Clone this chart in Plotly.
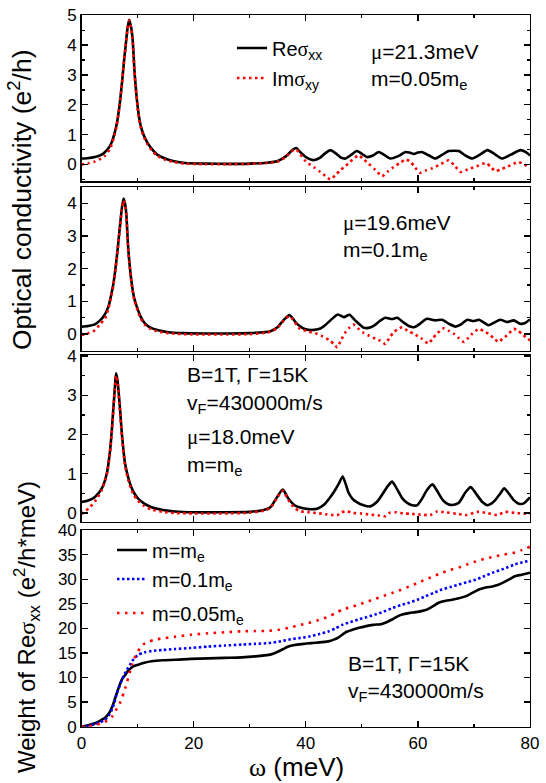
import plotly.graph_objects as go

# ---------------- Panel 1 : mu=21.3 meV, m=0.05 m_e ----------------
p1_re_x = [0, 1, 2.4, 3.5, 4.2, 5.0, 5.4, 5.9, 6.3, 6.8, 7.2, 7.6, 7.9, 8.2, 8.5, 8.8, 9.1, 9.5, 10.1, 10.5,
           11.0, 11.7, 12.5, 13.5, 14.9, 16.5, 18.5, 22, 26, 30, 33, 35, 36.5, 37.6, 38.3, 39.0, 40.0, 41.0,
           41.6, 42.5, 43.5, 44.4, 45.3, 46.2, 47.1, 48.1, 49.1, 50.0, 50.9, 52.0, 53.0, 54.0, 55.1, 56.5,
           57.8, 58.5, 59.3, 60.0, 60.7, 62.0, 63.1, 64.3, 65.5, 66.4, 67.3, 68.5, 69.7, 71.0, 72.4, 73.7,
           75.0, 76.5, 78.3, 79.2, 80]
p1_re_y = [0.2, 0.21, 0.25, 0.32, 0.42, 0.6, 0.75, 1.05, 1.37, 2.0, 2.7, 3.5, 4.03, 4.55, 4.85, 4.65, 4.25, 3.0,
           1.81, 1.35, 1.03, 0.75, 0.53, 0.33, 0.2, 0.11, 0.05, 0.03, 0.02, 0.03, 0.06, 0.12, 0.28, 0.48, 0.55,
           0.42, 0.25, 0.16, 0.15, 0.22, 0.38, 0.48, 0.38, 0.24, 0.2, 0.32, 0.45, 0.36, 0.25, 0.3, 0.42, 0.32,
           0.2, 0.28, 0.42, 0.4, 0.35, 0.4, 0.42, 0.3, 0.2, 0.32, 0.45, 0.46, 0.45, 0.3, 0.2, 0.32, 0.48, 0.35,
           0.2, 0.32, 0.48, 0.42, 0.3]
p1_im_x = [0, 1.2, 2.4, 3.5, 4.2, 5.0, 5.4, 5.9, 6.3, 6.8, 7.2, 7.6, 7.9, 8.2, 8.5, 8.8, 9.1, 9.5, 10.1, 10.5,
           11.0, 11.7, 12.5, 13.5, 14.9, 16.5, 18.5, 22, 26, 30, 33, 35, 36.5, 37.6, 38.3, 39.0, 39.8, 40.5,
           41.5, 42.6, 43.5, 44.4, 45.3, 46.2, 47.1, 47.9, 48.7, 49.4, 50.3, 51.2, 52.4, 53.6, 54.6, 55.7,
           56.8, 57.8, 58.7, 59.5, 60.4, 61.4, 62.5, 64.0, 65.5, 66.6, 67.6, 68.5, 69.4, 70.8, 72.1, 73.0,
           73.8, 74.9, 75.9, 77.4, 78.0, 79.0, 80]
p1_im_y = [0.0, 0.04, 0.1, 0.2, 0.3, 0.5, 0.68, 1.0, 1.33, 1.97, 2.68, 3.48, 4.0, 4.52, 4.82, 4.62, 4.2, 2.95,
           1.77, 1.3, 0.98, 0.7, 0.48, 0.29, 0.16, 0.08, 0.03, 0.01, 0.01, 0.02, 0.05, 0.1, 0.26, 0.46, 0.5,
           0.35, 0.15, 0.03, -0.1, -0.25, -0.38, -0.5, -0.35, -0.19, -0.05, 0.09, 0.22, 0.31, 0.18, 0.03,
           -0.18, -0.39, -0.24, -0.08, 0.05, 0.17, 0.09, -0.1, -0.28, -0.2, -0.13, 0.0, 0.14, -0.05, -0.25,
           -0.19, -0.13, -0.04, 0.05, -0.08, -0.22, -0.15, -0.08, 0.05, 0.08, 0.0, -0.12]

# ---------------- Panel 2 : mu=19.6 meV, m=0.1 m_e ----------------
p2_re_x = [0, 1.2, 2.4, 3.3, 3.9, 4.8, 5.3, 5.7, 6.3, 6.9, 7.2, 7.5, 7.8, 8.0, 8.36, 8.96, 9.4, 9.86, 10.5,
           11.3, 12.3, 13.7, 15.5, 17.9, 22, 26, 30, 33.7, 35.0, 36.0, 37.1, 38.4, 39.5, 40.5, 41.5, 42.6,
           43.5, 44.4, 45.7, 46.8, 47.8, 48.8, 50.3, 51.2, 52.1, 53.2, 54.2, 55.4, 56.3, 57.5, 58.5, 59.3,
           60.4, 61.6, 63.1, 64.3, 65.5, 66.7, 67.7, 68.8, 69.9, 70.9, 71.8, 72.6, 73.6, 74.7, 75.9, 77.1,
           78.2, 79.0, 80]
p2_re_y = [0.23, 0.25, 0.3, 0.42, 0.53, 0.84, 1.2, 1.55, 2.36, 3.37, 3.85, 4.14, 3.95, 3.65, 2.56, 1.55, 1.1,
           0.84, 0.55, 0.33, 0.2, 0.12, 0.06, 0.03, 0.02, 0.02, 0.03, 0.09, 0.22, 0.42, 0.58, 0.32, 0.18, 0.13,
           0.13, 0.17, 0.28, 0.42, 0.6, 0.52, 0.59, 0.42, 0.2, 0.19, 0.25, 0.4, 0.5, 0.46, 0.5, 0.35, 0.24,
           0.21, 0.32, 0.47, 0.42, 0.44, 0.32, 0.23, 0.3, 0.44, 0.4, 0.44, 0.35, 0.27, 0.35, 0.44, 0.37, 0.42,
           0.32, 0.33, 0.45]
p2_im_x = [0, 1.2, 2.4, 3.3, 4.2, 4.8, 5.3, 5.7, 6.3, 6.9, 7.2, 7.5, 7.8, 8.0, 8.36, 8.96, 9.4, 9.86, 10.5,
           11.3, 12.3, 13.7, 15.5, 17.9, 22, 26, 30, 33.7, 35.0, 36.0, 37.1, 38.4, 39.0, 40.5, 42.0, 43.0,
           44.1, 45.0, 45.6, 46.3, 47.1, 47.8, 48.5, 49.3, 50.3, 51.3, 52.4, 53.3, 54.2, 54.9, 55.7, 56.4,
           57.2, 58.2, 59.3, 60.7, 61.9, 62.6, 63.4, 64.6, 65.5, 66.4, 67.3, 68.2, 69.0, 69.7, 70.9, 71.8,
           72.6, 73.5, 74.4, 75.1, 75.9, 77.1, 77.8, 78.6, 79.3, 80]
p2_im_y = [-0.03, 0.03, 0.12, 0.3, 0.48, 0.78, 1.15, 1.5, 2.3, 3.32, 3.8, 4.08, 3.9, 3.6, 2.5, 1.5, 1.05, 0.8,
           0.5, 0.29, 0.16, 0.08, 0.03, 0.0, -0.01, -0.01, 0.0, 0.07, 0.2, 0.4, 0.55, 0.28, 0.16, 0.08, 0.01,
           -0.07, -0.17, -0.3, -0.4, -0.18, 0.06, 0.2, 0.29, 0.18, 0.04, -0.05, -0.14, -0.2, -0.3, -0.12,
           0.06, 0.15, 0.21, 0.1, 0.01, -0.14, -0.29, -0.14, 0.01, 0.18, 0.1, 0.01, -0.12, -0.24, -0.11,
           0.01, 0.16, 0.08, 0.01, -0.12, -0.24, -0.14, -0.04, 0.16, 0.12, 0.0, -0.1, -0.19]

# ---------------- Panel 3 : mu=18.0 meV, m=m_e ----------------
p3_re_x = [0, 1.2, 2.4, 3.6, 4.5, 5.1, 5.4, 5.7, 5.95, 6.16, 6.4, 6.6, 6.9, 7.2, 7.77, 8.2, 8.66, 9.3, 10.1,
           11.2, 12.5, 14.5, 16.7, 20, 25, 30, 32.5, 33.7, 34.9, 35.9, 36.9, 38.0, 39.0, 40.5, 42.0, 43.3,
           44.4, 45.3, 45.9, 46.6, 47.1, 47.6, 48.3, 49.1, 50.3, 51.5, 52.8, 53.9, 54.7, 55.4, 56.0, 56.6,
           57.3, 58.1, 59.0, 59.9, 60.8, 61.6, 62.6, 63.2, 63.7, 64.5, 65.5, 66.4, 67.3, 68.5, 69.4, 70.0,
           70.6, 71.5, 72.4, 73.1, 73.8, 74.7, 75.4, 76.2, 77.1, 78.0, 78.8, 80]
p3_re_y = [0.28, 0.32, 0.41, 0.62, 1.0, 1.6, 2.1, 2.7, 3.2, 3.56, 3.4, 3.12, 2.6, 2.02, 1.26, 0.98, 0.75, 0.53,
           0.37, 0.24, 0.15, 0.08, 0.04, 0.02, 0.02, 0.03, 0.08, 0.15, 0.41, 0.6, 0.37, 0.2, 0.14, 0.1, 0.11,
           0.22, 0.41, 0.6, 0.75, 0.93, 0.75, 0.53, 0.37, 0.28, 0.2, 0.17, 0.3, 0.53, 0.7, 0.8, 0.68, 0.53,
           0.36, 0.26, 0.2, 0.2, 0.38, 0.58, 0.73, 0.62, 0.5, 0.32, 0.22, 0.21, 0.26, 0.53, 0.66, 0.57, 0.45,
           0.28, 0.2, 0.24, 0.33, 0.5, 0.63, 0.5, 0.33, 0.24, 0.24, 0.4]
p3_im_x = [0, 0.7, 1.5, 2.4, 2.9, 3.6, 4.5, 5.1, 5.4, 5.7, 5.95, 6.16, 6.4, 6.6, 6.9, 7.2, 7.77, 8.2, 8.66,
           9.3, 10.1, 11.2, 12.5, 14.5, 16.7, 20, 25, 30, 32.5, 33.7, 34.9, 35.9, 36.9, 38.0, 39.0, 40.5, 42.0,
           43.5, 44.8, 45.6, 46.3, 47.4, 48.5, 49.8, 51.5, 53.0, 54.2, 55.0, 56.0, 57.5, 58.7, 60.5, 62.2,
           63.4, 65.0, 67.0, 68.7, 70.6, 72.4, 74.1, 75.6, 77.5, 80]
p3_im_y = [-0.02, 0.05, 0.15, 0.3, 0.4, 0.58, 0.97, 1.55, 2.05, 2.65, 3.15, 3.5, 3.35, 3.07, 2.55, 1.97, 1.2,
           0.92, 0.69, 0.47, 0.31, 0.18, 0.09, 0.03, 0.0, -0.01, -0.01, 0.01, 0.06, 0.13, 0.39, 0.57, 0.33,
           0.13, 0.05, 0.02, 0.0, -0.03, -0.05, -0.06, 0.02, 0.04, 0.0, -0.01, -0.04, -0.06, -0.08, 0.01,
           0.02, -0.01, -0.02, -0.04, -0.05, 0.04, 0.02, -0.02, -0.05, 0.03, 0.0, -0.05, 0.03, 0.0, -0.02]

# ---------------- Panel 4 : spectral weight ----------------
w_me_x = [0, 1.2, 2.4, 3.3, 4.2, 4.7, 5.1, 5.6, 6.0, 6.5, 6.9, 7.3, 7.8, 8.2, 8.7, 9.3, 10.1, 11.2, 12.5, 14.5,
          16.7, 19.5, 22.6, 25.5, 28.6, 31, 33.4, 34.3, 35.1, 36.0, 36.9, 38.0, 39.3, 41.0, 42.9, 44.2, 45.0,
          45.8, 46.5, 47.3, 48.3, 49.5, 50.6, 52.0, 53.6, 54.5, 55.4, 56.3, 57.2, 58.4, 59.6, 60.6, 61.6,
          62.7, 63.7, 65.0, 66.1, 67.3, 68.5, 69.7, 70.9, 72.1, 73.3, 74.2, 75.0, 76.2, 77.3, 78.5, 80]
w_me_y = [0.0, 0.3, 0.7, 1.2, 1.8, 2.4, 3.1, 4.4, 5.8, 7.5, 8.8, 9.8, 10.5, 11.2, 11.8, 12.3, 12.6, 13.0, 13.3,
          13.5, 13.6, 13.8, 13.9, 14.0, 14.1, 14.3, 14.6, 14.9, 15.3, 15.8, 16.3, 16.6, 16.8, 17.0, 17.2, 17.4,
          17.7, 18.1, 18.7, 19.3, 19.7, 20.1, 20.4, 20.7, 20.9, 21.3, 21.8, 22.4, 22.8, 23.1, 23.3, 23.5,
          23.8, 24.5, 25.2, 25.6, 25.8, 26.1, 26.5, 27.2, 27.9, 28.3, 28.5, 28.8, 29.2, 29.9, 30.6, 30.9, 31.3]
w_01_x = [0, 1.2, 2.4, 3.3, 4.2, 4.8, 5.4, 5.9, 6.3, 6.8, 7.2, 7.7, 8.1, 8.6, 9.0, 9.5, 10.1, 11.2, 12.5, 14.5,
          16.7, 19.5, 22.6, 25.5, 28.6, 31.0, 33.4, 35.2, 36.9, 38.7, 40.5, 42.3, 44.1, 45.3, 46.5, 48.0, 49.4,
          50.9, 52.4, 53.9, 55.4, 56.9, 58.4, 59.9, 61.3, 62.8, 64.3, 65.8, 67.3, 68.8, 70.3, 71.8, 73.3,
          75.3, 77.3, 80]
w_01_y = [0, 0.2, 0.5, 0.9, 1.4, 2.2, 3.4, 5.0, 6.8, 8.3, 9.5, 10.7, 11.6, 12.5, 13.3, 14.0, 14.6, 15.1, 15.4,
          15.6, 15.8, 16.0, 16.3, 16.5, 16.7, 16.85, 17.0, 17.3, 17.7, 18.0, 18.3, 18.8, 19.4, 20.0, 20.7,
          21.3, 21.8, 22.3, 22.8, 23.4, 24.1, 24.7, 25.2, 25.8, 26.5, 27.2, 27.9, 28.4, 28.9, 29.4, 29.9,
          30.6, 31.3, 32.1, 33.0, 33.8]
w_005_x = [0, 1.2, 2.4, 3.3, 4.2, 4.8, 5.4, 5.9, 6.3, 6.8, 7.2, 7.5, 7.8, 8.1, 8.4, 8.7, 9.0, 9.4, 9.9, 10.4,
           11.0, 12.0, 13.1, 14.8, 16.7, 19.5, 22.6, 25.5, 28.6, 31.0, 33.4, 35.2, 36.9, 38.7, 40.5, 42.3,
           44.1, 45.3, 46.5, 48.0, 49.4, 50.9, 52.4, 53.9, 55.4, 56.9, 58.4, 59.9, 61.3, 62.8, 64.3, 65.8,
           67.3, 68.8, 70.3, 71.8, 73.3, 75.3, 77.3, 78.5, 80]
w_005_y = [0, 0.1, 0.3, 0.6, 1.0, 1.4, 2.0, 2.8, 3.7, 4.7, 5.8, 6.8, 7.8, 9.0, 10.2, 11.4, 12.6, 13.8, 15.0,
           15.9, 16.7, 17.3, 17.7, 18.0, 18.3, 18.7, 19.0, 19.2, 19.4, 19.45, 19.5, 19.7, 20.1, 20.6, 21.1,
           21.7, 22.4, 23.1, 23.8, 24.3, 24.8, 25.4, 26.0, 26.6, 27.2, 27.8, 28.5, 29.2, 29.9, 30.6, 31.3,
           31.9, 32.4, 33.0, 33.6, 34.1, 34.5, 35.0, 35.4, 35.9, 36.6]

x_range = [0, 80]
x_ticks = [0, 20, 40, 60, 80]
y_ranges = [[-0.56, 5.01], [-0.50, 4.5], [-0.22, 4.03], [0, 40]]

W, H = 546, 783
SANS = "Liberation Sans, Arial, sans-serif"
SERIF = "Liberation Serif, Times New Roman, serif"
def g(ch):
    return f'<span style="font-family:{SERIF}">{ch}</span>'

RED_DOT = "2.5px,3.5px"

fig = go.Figure()
names = ['', '2', '3', '4']

def add(xs, ys, panel, color, dash, width, name=None, legend=None):
    fig.add_trace(go.Scatter(
        x=xs, y=ys, mode='lines', xaxis='x' + names[panel], yaxis='y' + names[panel],
        line=dict(color=color, width=width, dash=dash, shape='spline', smoothing=0.6),
        name=name if name else 'curve', showlegend=name is not None,
        legend=legend if legend else 'legend', hoverinfo='skip'))

add(p1_re_x, p1_re_y, 0, 'black', 'solid', 2.6, 'Re' + g('σ') + '<sub>xx</sub>', 'legend')
add(p1_im_x, p1_im_y, 0, '#ff0000', RED_DOT, 2.6, 'Im' + g('σ') + '<sub>xy</sub>', 'legend2')
add(p2_re_x, p2_re_y, 1, 'black', 'solid', 2.6)
add(p2_im_x, p2_im_y, 1, '#ff0000', RED_DOT, 2.6)
add(p3_re_x, p3_re_y, 2, 'black', 'solid', 2.6)
add(p3_im_x, p3_im_y, 2, '#ff0000', RED_DOT, 2.6)
add(w_me_x, w_me_y, 3, 'black', 'solid', 2.6, 'm=m<sub>e</sub>', 'legend3')
add(w_01_x, w_01_y, 3, '#0000ff', '2.5px,2.5px', 2.6, 'm=0.1m<sub>e</sub>', 'legend4')
add(w_005_x, w_005_y, 3, '#ff0000', '2.5px,5.5px', 2.6, 'm=0.05m<sub>e</sub>', 'legend5')

xdom = [81.5 / W, 530 / W]
ydoms = [[1 - 181.2 / H, 1 - 15 / H], [1 - 350.5 / H, 1 - 186.8 / H],
         [1 - 521.7 / H, 1 - 354.8 / H], [1 - 726.7 / H, 1 - 530 / H]]

layout = dict(width=W, height=H, margin=dict(l=0, r=0, t=0, b=0, autoexpand=False),
              paper_bgcolor='white', plot_bgcolor='white',
              font=dict(family=SANS, color='black', size=17))
for i in range(4):
    n = names[i]
    layout['xaxis' + n] = dict(
        domain=xdom, anchor='y' + n, range=x_range, tickvals=x_ticks, automargin=False,
        ticks='inside', ticklen=6, tickwidth=1.3, tickcolor='black',
        minor=dict(dtick=10, tick0=0, ticks='inside', ticklen=3, tickwidth=1.3, tickcolor='black'),
        showline=True, linewidth=1.3, linecolor='black', mirror='allticks',
        showgrid=False, zeroline=False, showticklabels=(i == 3),
        tickfont=dict(size=17, family=SANS), ticklabelstandoff=1)
    dt = 1 if i < 3 else 5
    ax = dict(
        domain=ydoms[i], anchor='x' + n, range=y_ranges[i], dtick=dt, tick0=0, automargin=False,
        ticks='inside', ticklen=6, tickwidth=1.3, tickcolor='black',
        showline=True, linewidth=1.3, linecolor='black', mirror='allticks',
        showgrid=False, zeroline=False, tickfont=dict(size=17, family=SANS))
    if i < 3:
        ax['minor'] = dict(dtick=0.5, tick0=0, ticks='inside', ticklen=3, tickwidth=1.3,
                           tickcolor='black', showgrid=False)
    layout['yaxis' + n] = ax

def leg(xpx, ypx):
    return dict(x=xpx / W, xanchor='left', y=1 - ypx / H, yanchor='middle',
                bgcolor='rgba(0,0,0,0)', font=dict(size=20, family=SANS),
                tracegroupgap=0, itemwidth=30, borderwidth=0)

layout['legend'] = leg(232, 48)
layout['legend2'] = leg(232, 78)
layout['legend3'] = leg(112, 550)
layout['legend4'] = leg(112, 579)
layout['legend5'] = leg(112, 613)
fig.update_layout(**layout)

def note(text, xpx, ypx, size=21, angle=0, xanchor='left'):
    fig.add_annotation(text=text, x=xpx / W, y=1 - ypx / H, xref='paper', yref='paper',
                       xanchor=xanchor, yanchor='middle', showarrow=False, textangle=angle,
                       font=dict(size=size, family=SANS, color='black'))

note(g('μ') + '=21.3meV', 369, 52)
note('m=0.05m<sub>e</sub>', 369, 80)
note(g('μ') + '=19.6meV', 341, 223)
note('m=0.1m<sub>e</sub>', 341, 251)
note('B=1T, Γ=15K', 185, 374)
note('v<sub>F</sub>=430000m/s', 185, 404)
note(g('μ') + '=18.0meV', 185, 437)
note('m=m<sub>e</sub>', 185, 466)
note('B=1T, Γ=15K', 346, 663)
note('v<sub>F</sub>=430000m/s', 346, 692)

note('Optical conductivity (e<sup>2</sup>/h)', 20, 200, size=26.5, angle=-90, xanchor='center')
note('Weight of Re' + g('σ') + '<sub>xx</sub> (e<sup>2</sup>/h*meV)', 27, 627, size=24, angle=-90,
     xanchor='center')
note(g('ω') + ' (meV)', 296, 767, size=26, xanchor='center')

fig.write_html("out.html", config={'displayModeBar': False, 'staticPlot': True},
               post_script="document.body.style.margin='0';document.body.style.overflow='hidden';")
